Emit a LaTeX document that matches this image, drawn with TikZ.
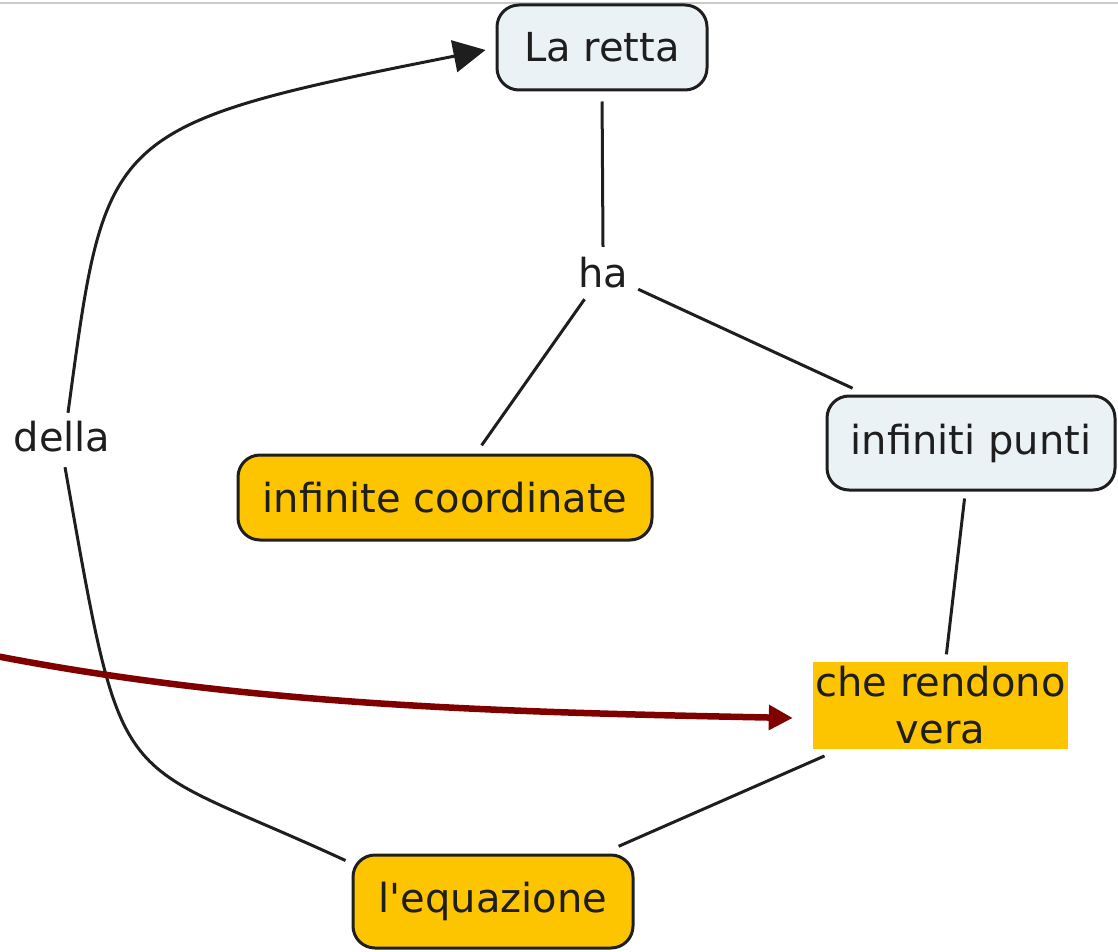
\documentclass[tikz,border=0pt]{standalone}
\usepackage{fontspec}
\setmainfont{DejaVu Sans}
\usetikzlibrary{arrows.meta,calc}
\definecolor{conceptblue}{HTML}{EBF2F5}
\definecolor{conceptgold}{HTML}{FDC400}
\definecolor{linkred}{HTML}{800000}
\definecolor{ink}{HTML}{1E1E1E}
\definecolor{rulegray}{HTML}{CACACA}
\begin{document}
\begin{tikzpicture}[x=1pt,y=-1pt,
  every node/.style={font=\fontsize{40}{47}\selectfont, text=ink, inner sep=0pt},
  concept/.style={draw=ink, line width=3pt, rounded corners=22pt},
  pale/.style={concept, fill=conceptblue},
  gold/.style={concept, fill=conceptgold},
  link/.style={draw=ink, line width=3pt},
  redlink/.style={draw=linkred, line width=6.5pt,
    -{Triangle[length=24pt,width=24pt]}},
  blackarrow/.style={link, -{Triangle[length=32pt,width=32pt]}}
]
\useasboundingbox (0,0) rectangle (1118,952);

% thin rule along the top edge
\draw[rulegray, line width=2pt] (0,3.5) -- (1118,3.5);

% concepts
\node[pale, minimum width=210pt, minimum height=85pt] (retta) at (602,47.5) {La retta};
\node[pale, minimum width=288pt, minimum height=94pt] (ip) at (971,443) {infiniti punti};
\node[gold, minimum width=414pt, minimum height=85pt] (ic) at (445,497.5) {infinite coordinate};
\node[gold, minimum width=280pt, minimum height=93pt] (eq) at (493,901.5) {l\textquotesingle equazione};
\node[fill=conceptgold, minimum width=255pt, minimum height=87pt, align=center] (crv) at (940.5,705) {che rendono\\vera};

% linking phrases
\node[minimum width=70pt, minimum height=52pt] (ha) at (603,273) {ha};
\node[minimum width=94pt, minimum height=54pt] (della) at (62,437) {della};

% straight connectors
\draw[link, shorten <=10pt] (retta.south) -- (ha.north);
\draw[link, shorten >=10pt] (ha) -- (ic);
\draw[link, shorten >=15pt] (ha) -- (ip);
\draw[link, shorten <=7pt, shorten >=7pt] (ip) -- (crv);
\draw[link, shorten <=18pt, shorten >=18pt] (crv) -- (eq);

% curved connectors through "della"
\coordinate (eqtail) at ($(eq.north west)+(-6,7)$);
\coordinate (dellafoot) at ($(della.south)+(3,3)$);
\coordinate (dellahead) at ($(della.north)+(6,3)$);
\coordinate (rettatip) at ($(retta.west)+(-10,2.5)$);
\draw[link] (eqtail) .. controls (111,752) and (125,806) .. (dellafoot);
\draw[blackarrow] (dellahead) .. controls (106,133) and (101,126) .. (rettatip);

% incoming red arrow
\coordinate (redstart) at (-4,656);
\draw[redlink] (redstart) .. controls (250,705) and (493,712) .. ($(crv.west)+(-20,13)$);
\end{tikzpicture}
\end{document}
